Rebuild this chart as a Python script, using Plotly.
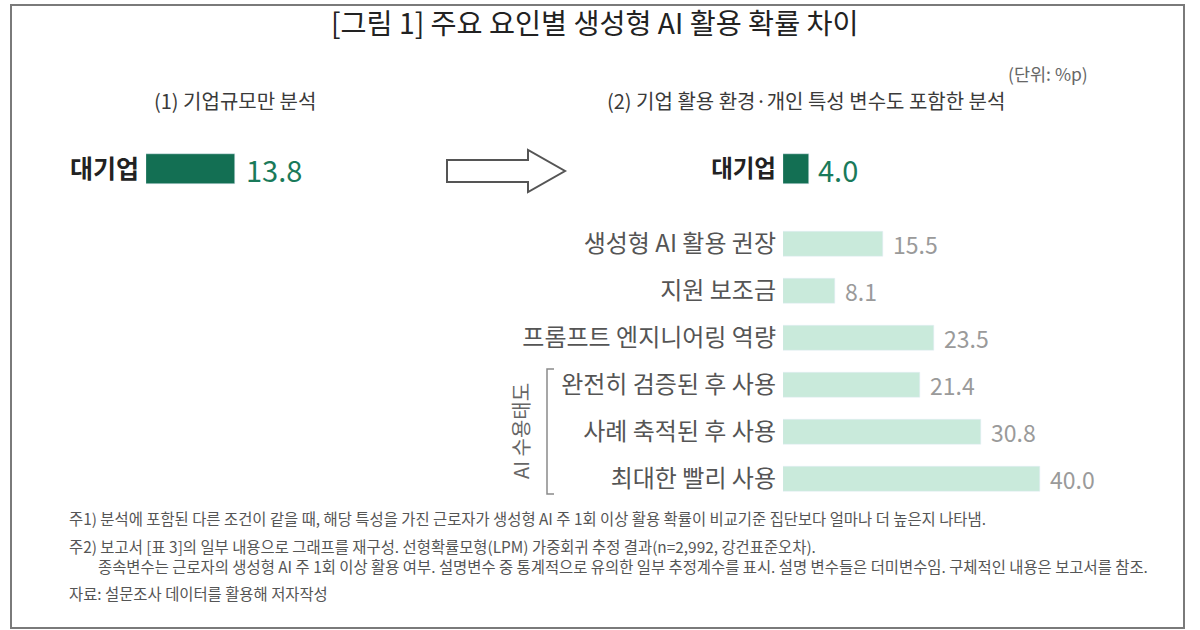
import plotly.graph_objects as go

W, H = 1200, 630
FONT = "Noto Sans CJK KR"

# ---- data ----
left_cat = ["대기업"]
left_val = [13.8]

right_top_cat = ["대기업"]
right_top_val = [4.0]

right_cats = ["생성형 AI 활용 권장", "지원 보조금", "프롬프트 엔지니어링 역량",
              "완전히 검증된 후 사용", "사례 축적된 후 사용", "최대한 빨리 사용"]
right_vals = [15.5, 8.1, 23.5, 21.4, 30.8, 40.0]

title = "[그림 1] 주요 요인별 생성형 AI 활용 확률 차이"
sub1 = "(1) 기업규모만 분석"
sub2 = "(2) 기업 활용 환경·개인 특성 변수도 포함한 분석"
unit = "(단위: %p)"
group_label = "AI 수용태도"
notes = [
    "주1) 분석에 포함된 다른 조건이 같을 때, 해당 특성을 가진 근로자가 생성형 AI 주 1회 이상 활용 확률이 비교기준 집단보다 얼마나 더 높은지 나타냄.",
    "주2) 보고서 [표 3]의 일부 내용으로 그래프를 재구성. 선형확률모형(LPM) 가중회귀 추정 결과(n=2,992, 강건표준오차).",
    "종속변수는 근로자의 생성형 AI 주 1회 이상 활용 여부. 설명변수 중 통계적으로 유의한 일부 추정계수를 표시. 설명 변수들은 더미변수임. 구체적인 내용은 보고서를 참조.",
    "자료: 설문조사 데이터를 활용해 저자작성",
]

DARK = "#136f53"
LIGHT = "#c9eadb"
PXU = 6.42  # pixels per %p


def fx(px):
    return px / W


def fy(py):
    return 1 - py / H


fig = go.Figure()

fig.add_trace(go.Bar(x=left_val, y=left_cat, orientation="h", marker_color=DARK,
                     width=0.75, xaxis="x", yaxis="y", hoverinfo="skip"))
fig.add_trace(go.Bar(x=right_top_val, y=right_top_cat, orientation="h", marker_color=DARK,
                     width=0.75, xaxis="x2", yaxis="y3", hoverinfo="skip"))
fig.add_trace(go.Bar(x=right_vals, y=right_cats, orientation="h", marker_color=LIGHT,
                     width=0.53, xaxis="x2", yaxis="y2", hoverinfo="skip"))

annotations = []
annotations.append(dict(x=left_val[0], y=left_cat[0], xref="x", yref="y", text=f"{left_val[0]:.1f}",
                        xanchor="left", yanchor="middle", xshift=9, showarrow=False,
                        font=dict(family=FONT, size=29, color="#1a7a5a")))
annotations.append(dict(x=right_top_val[0], y=right_top_cat[0], xref="x2", yref="y3",
                        text=f"{right_top_val[0]:.1f}", xanchor="left", yanchor="middle", xshift=7,
                        showarrow=False, font=dict(family=FONT, size=29, color="#1a7a5a")))
for c, v in zip(right_cats, right_vals):
    annotations.append(dict(x=v, y=c, xref="x2", yref="y2", text=f"{v:.1f}", xanchor="left",
                            yanchor="middle", xshift=8, showarrow=False,
                            font=dict(family=FONT, size=23, color="#9a9a9a")))

annotations += [
    dict(x=fx(595), y=fy(22), xref="paper", yref="paper", text=title, showarrow=False,
         xanchor="center", yanchor="middle", font=dict(family=FONT, size=28.3, color="#222")),
    dict(x=fx(235), y=fy(101), xref="paper", yref="paper", text=sub1, showarrow=False,
         xanchor="center", yanchor="middle", font=dict(family=FONT, size=20, color="#3a3a3a")),
    dict(x=fx(806), y=fy(101), xref="paper", yref="paper", text=sub2, showarrow=False,
         xanchor="center", yanchor="middle", font=dict(family=FONT, size=20, color="#3a3a3a")),
    dict(x=fx(1090), y=fy(73), xref="paper", yref="paper", text=unit, showarrow=False,
         xanchor="right", yanchor="middle", font=dict(family=FONT, size=17.5, color="#666")),
    dict(x=fx(520), y=fy(431), xref="paper", yref="paper", text=group_label, showarrow=False,
         textangle=-90, xanchor="center", yanchor="middle",
         font=dict(family=FONT, size=20, color="#666")),
]
note_pos = [(67, 518), (67, 546), (96, 566), (67, 593)]
for t, (px, py) in zip(notes, note_pos):
    annotations.append(dict(x=fx(px), y=fy(py), xref="paper", yref="paper", text=t, showarrow=False,
                            xanchor="left", yanchor="middle",
                            font=dict(family=FONT, size=15.4, color="#555")))

shapes = [
    # frame
    dict(type="rect", xref="paper", yref="paper", x0=fx(11), x1=fx(1184), y0=fy(628), y1=fy(5),
         line=dict(color="#7a7a7a", width=2)),
    # outline arrow
    dict(type="path", xref="paper", yref="paper",
         path=(f"M {fx(447)},{fy(160)} L {fx(528)},{fy(160)} L {fx(528)},{fy(150)} "
               f"L {fx(565)},{fy(171)} L {fx(528)},{fy(192)} L {fx(528)},{fy(182)} "
               f"L {fx(447)},{fy(182)} Z"),
         line=dict(color="#555", width=2), fillcolor="white"),
    # bracket
    dict(type="path", xref="paper", yref="paper",
         path=(f"M {fx(554)},{fy(369)} L {fx(547)},{fy(369)} L {fx(547)},{fy(494)} "
               f"L {fx(554)},{fy(494)}"),
         line=dict(color="#8a8a8a", width=1.5)),
]

left_x0, left_x1 = 146, 420
right_x0, right_x1 = 783, 1150
axis_common = dict(showgrid=False, zeroline=False, showline=False, fixedrange=True)

fig.update_layout(
    width=W, height=H, margin=dict(l=0, r=0, t=0, b=0),
    paper_bgcolor="white", plot_bgcolor="rgba(0,0,0,0)",
    showlegend=False, bargap=0, barmode="overlay",
    font=dict(family=FONT),
    xaxis=dict(domain=[fx(left_x0), fx(left_x1)], range=[0, (left_x1 - left_x0) / PXU],
               showticklabels=False, anchor="y", **axis_common),
    yaxis=dict(domain=[fy(189), fy(149)], range=[-0.5, 0.5], anchor="x", type="category",
               ticks="", ticklabelstandoff=6,
               tickfont=dict(family=FONT, size=25, color="#222", weight="bold"), **axis_common),
    xaxis2=dict(domain=[fx(right_x0), fx(right_x1)], range=[0, (right_x1 - right_x0) / PXU],
                showticklabels=False, anchor="y2", **axis_common),
    yaxis2=dict(domain=[fy(502.5), fy(220.5)], range=[5.5, -0.5], anchor="x2", type="category",
                ticks="", ticklabelstandoff=6,
                tickfont=dict(family=FONT, size=24, color="#555"), **axis_common),
    yaxis3=dict(domain=[fy(189), fy(149)], range=[-0.5, 0.5], anchor="x2", type="category",
                ticks="", ticklabelstandoff=6,
                tickfont=dict(family=FONT, size=23.5, color="#222", weight="bold"), **axis_common),
    annotations=annotations,
    shapes=shapes,
)

fig.write_html("out.html")
